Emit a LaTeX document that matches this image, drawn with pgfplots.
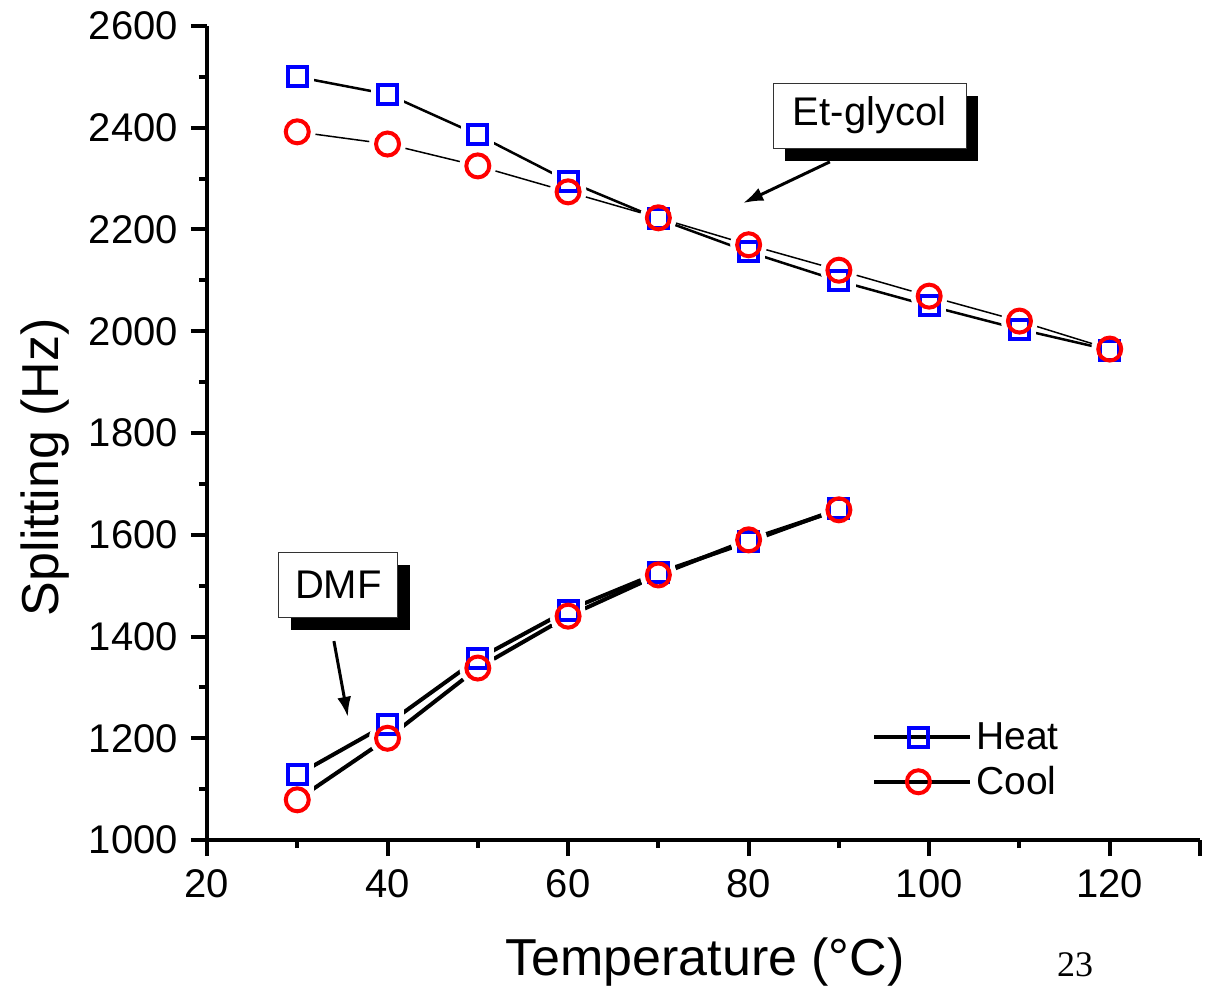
\documentclass[border=0pt]{standalone}
\usepackage{fontspec}
\setmainfont{Liberation Sans}
\newfontfamily\timesfont{Liberation Serif}
\usepackage{pgfplots}
\pgfplotsset{compat=1.18}
\usepackage{pgfplotstable}
\usetikzlibrary{arrows.meta}

% Et-glycol and DMF, heating and cooling runs
\pgfplotstableread{
T S
30 2500
40 2466
50 2386
60 2295
70 2221
80 2156
90 2099
100 2050
110 2004
120 1963
}\etheat
\pgfplotstableread{
T S
30 2392
40 2368
50 2325
60 2274
70 2223
80 2170
90 2120
100 2069
110 2020
120 1965
}\etcool
\pgfplotstableread{
T S
30 1128
40 1228
50 1356
60 1452
70 1525
80 1586
90 1651
}\dmfheat
\pgfplotstableread{
T S
30 1079
40 1200
50 1338
60 1440
70 1521
80 1590
90 1649
}\dmfcool

\begin{document}
\begin{tikzpicture}
\path[use as bounding box] (-103.5pt,-73pt) rectangle (499pt,420pt);
\begin{axis}[
  at={(0,0)}, anchor=south west,
  scale only axis,
  width=496.5pt, height=407pt,
  xmin=20, xmax=130,
  ymin=1000, ymax=2600,
  axis lines*=left,
  axis line style={line width=2pt},
  every tick/.style={black, line width=2pt},
  tick align=outside,
  major tick length=8pt,
  minor tick length=4pt,
  xtick={20,40,...,120},
  minor xtick={30,50,...,110},
  extra x ticks={130},
  extra x tick labels={},
  ytick={1000,1200,...,2600},
  minor ytick={1100,1300,...,2500},
  tick label style={font=\fontsize{20}{24}\selectfont},
  /pgf/number format/assume math mode=true,
  /pgf/number format/1000 sep={},
  xticklabel style={yshift=-3pt},
  yticklabel style={xshift=-3pt},
  xlabel={Temperature (\textdegree C)},
  ylabel={Splitting (Hz)},
  label style={font=\fontsize{26}{31}\selectfont},
  xlabel style={at={(axis description cs:0.5015,-0.150)}, anchor=center},
  ylabel style={at={(axis description cs:-0.163,0.458)}, anchor=center, rotate=0},
  clip=false,
  legend style={at={(axis description cs:0.6697,0.150)}, anchor=north west,
    draw=none, fill=none, inner sep=0pt,
    font=\fontsize{19.5}{22}\selectfont,
    row sep=3pt},
  legend cell align=left,
  legend image code/.code={%
    \path (0pt,0pt) -- (48pt,0pt);
    \draw[#1, mark=none] (0pt,0pt) -- (14pt,0pt);
    \draw[#1, mark=none] (30.5pt,0pt) -- (44pt,0pt);
    \draw[#1, only marks] plot coordinates {(22pt,0pt)};},
]
% connecting lines
\addplot[forget plot, black, line width=1.25pt] table[x=T,y=S] {\etheat};
\addplot[forget plot, black, line width=0.75pt] table[x=T,y=S] {\etcool};
\addplot[forget plot, black, line width=2pt] table[x=T,y=S] {\dmfheat};
\addplot[forget plot, black, line width=2pt] table[x=T,y=S] {\dmfcool};
% white halos leave a gap between line and marker
\addplot[forget plot, only marks, mark=square*, mark size=8pt,
  mark options={white, draw=white}] table[x=T,y=S] {\etheat};
\addplot[forget plot, only marks, mark=square*, mark size=8pt,
  mark options={white, draw=white}] table[x=T,y=S] {\dmfheat};
\addplot[forget plot, only marks, mark=*, mark size=9pt,
  mark options={white, draw=white}] table[x=T,y=S] {\etcool};
\addplot[forget plot, only marks, mark=*, mark size=9pt,
  mark options={white, draw=white}] table[x=T,y=S] {\dmfcool};
% markers
\addplot[forget plot, only marks, mark=square, mark size=4.75pt,
  mark options={blue, line width=2pt}] table[x=T,y=S] {\etheat};
\addplot[forget plot, only marks, mark=square, mark size=4.75pt,
  mark options={blue, line width=2pt}] table[x=T,y=S] {\dmfheat};
\addplot[forget plot, only marks, mark=o, mark size=5.75pt,
  mark options={red, line width=2pt}] table[x=T,y=S] {\etcool};
\addplot[forget plot, only marks, mark=o, mark size=5.75pt,
  mark options={red, line width=2pt}] table[x=T,y=S] {\dmfcool};

\addlegendimage{black, line width=2pt, mark=square, mark size=4.75pt,
  mark options={blue, line width=2pt}}
\addlegendentry{Heat}
\addlegendimage{black, line width=2pt, mark=o, mark size=5.75pt,
  mark options={red, line width=2pt}}
\addlegendentry{Cool}

% annotations
\node[fill=black, minimum width=96.5pt, minimum height=32.5pt, inner sep=0pt]
  at ([shift={(6pt,-6.5pt)}]axis cs:93.4,2424) {};
\node[draw=black!80, line width=0.5pt, fill=white, minimum width=96.5pt,
  minimum height=32.5pt, inner sep=0pt, font=\fontsize{20}{24}\selectfont]
  at (axis cs:93.4,2424) {Et-glycol};
\draw[line width=1.5pt, -{Latex[length=10pt,width=7pt]}]
  (axis cs:89.0,2333) -- (axis cs:79.4,2252);

\node[fill=black, minimum width=59.5pt, minimum height=32.5pt, inner sep=0pt]
  at ([shift={(6pt,-6.5pt)}]axis cs:34.56,1502) {};
\node[draw=black!80, line width=0.5pt, fill=white, minimum width=59.5pt,
  minimum height=32.5pt, inner sep=0pt, font=\fontsize{20}{24}\selectfont]
  at (axis cs:34.56,1502) {DMF};
\draw[line width=1.5pt, -{Latex[length=10pt,width=7pt]}]
  (axis cs:34.06,1391) -- (axis cs:35.6,1242);
\end{axis}
\node[font=\timesfont\fontsize{18}{20}\selectfont] at (434pt,-62.5pt) {23};
\end{tikzpicture}
\end{document}
